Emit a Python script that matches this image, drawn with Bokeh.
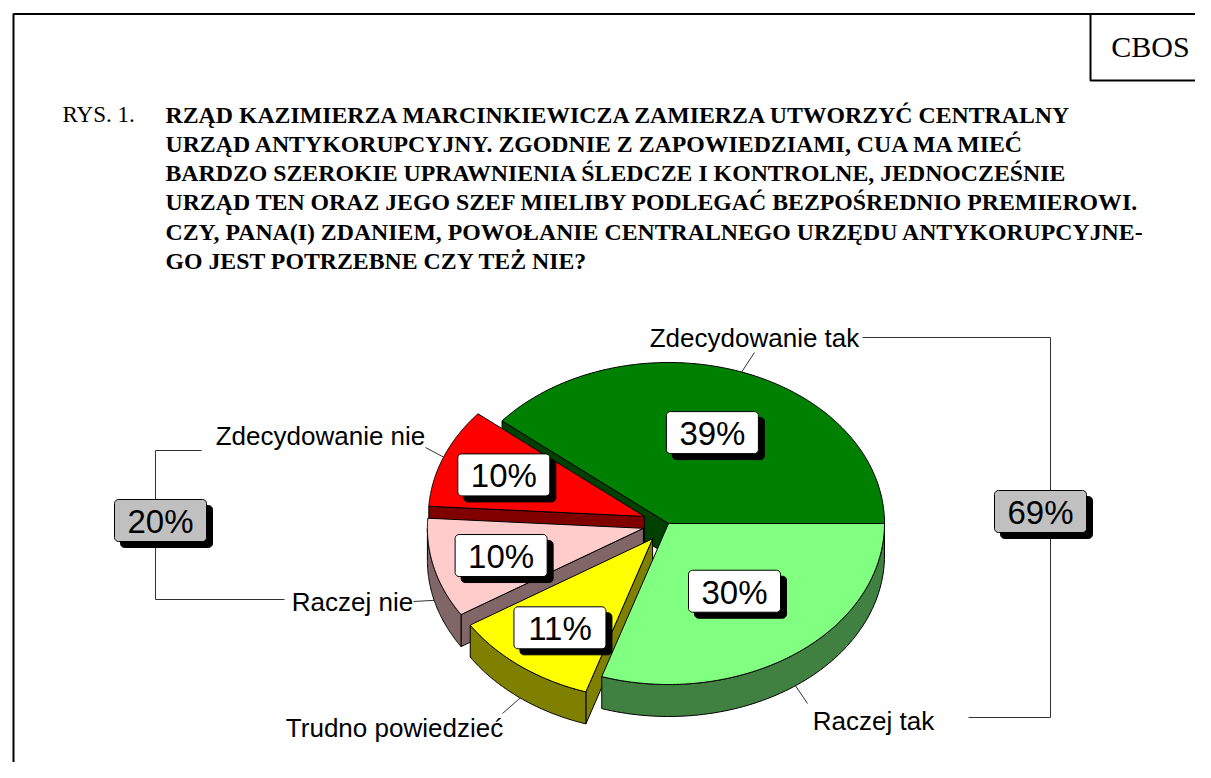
import numpy as np
from bokeh.plotting import figure
from bokeh.models import Range1d
from bokeh.embed import file_html
from bokeh.resources import INLINE
from bokeh.core.properties import value

# ---------------- data ----------------
categories = ["Zdecydowanie tak", "Zdecydowanie nie", "Raczej nie", "Trudno powiedzieć", "Raczej tak"]
percents = [39, 10, 10, 11, 30]
top_colors = ["#008000", "#FF0000", "#FFCCCC", "#FFFF00", "#80FF80"]
side_colors = ["#004000", "#800000", "#806666", "#808000", "#408040"]
exploded = [False, True, True, True, False]
group_yes = ["Zdecydowanie tak", "Raczej tak"]
group_no = ["Zdecydowanie nie", "Raczej nie"]

logo = "CBOS"
title_prefix = "RYS. 1."
title_lines = [
    "RZĄD KAZIMIERZA MARCINKIEWICZA ZAMIERZA UTWORZYĆ CENTRALNY",
    "URZĄD ANTYKORUPCYJNY. ZGODNIE Z ZAPOWIEDZIAMI, CUA MA MIEĆ",
    "BARDZO SZEROKIE UPRAWNIENIA ŚLEDCZE I KONTROLNE, JEDNOCZEŚNIE",
    "URZĄD TEN ORAZ JEGO SZEF MIELIBY PODLEGAĆ BEZPOŚREDNIO PREMIEROWI.",
    "CZY, PANA(I) ZDANIEM, POWOŁANIE CENTRALNEGO URZĘDU ANTYKORUPCYJNE-",
    "GO JEST POTRZEBNE CZY TEŻ NIE?",
]

# ---------------- layout ----------------
W, H = 1195, 762
CX, CY, RX, RY, DEPTH = 668, 523, 216, 161, 32
EXPLODE = 0.12
label_k = [0.6, 0.7, 0.68, 0.7, 0.52]          # radial position of % boxes
# category label centres and leader-line ends
cat_pos = {
    "Zdecydowanie tak": (754, 337, 754, 352),
    "Zdecydowanie nie": (320, 435, 425, 447),
    "Raczej nie": (352, 601, 413, 601),
    "Trudno powiedzieć": (394, 727, 502, 713),
    "Raczej tak": (873, 720, 807, 703),
}
BOX_W, BOX_H, BOX_R, SHADOW = 92, 42, 4, 6
SANS = value("Liberation Sans")
SERIF = value("Liberation Serif")

p = figure(width=W, height=H, x_range=Range1d(0, W), y_range=Range1d(H, 0),
           output_backend="svg", toolbar_location=None, min_border=0,
           x_axis_location=None, y_axis_location=None)
p.grid.visible = False
p.outline_line_color = None
p.background_fill_color = "white"
p.border_fill_color = "white"


def rim(ax, ay, deg):
    t = np.radians(np.atleast_1d(deg))
    return ax + RX * np.cos(t), ay - RY * np.sin(t)


def rrect(xc, yc, w, h, r):
    xs, ys = [], []
    corners = [(xc + w / 2 - r, yc - h / 2 + r, 90, 0), (xc + w / 2 - r, yc + h / 2 - r, 0, -90),
               (xc - w / 2 + r, yc + h / 2 - r, -90, -180), (xc - w / 2 + r, yc - h / 2 + r, 180, 90)]
    for (cx, cy, a0, a1) in corners:
        t = np.radians(np.linspace(a0, a1, 6))
        xs += list(cx + r * np.cos(t))
        ys += list(cy - r * np.sin(t))
    return xs, ys


# ---------------- pie ----------------
total = sum(percents)
starts, ends, mids, apexes = [], [], [], []
acc = 0.0
for v, ex in zip(percents, exploded):
    a0 = acc / total * 360
    a1 = (acc + v) / total * 360
    m = (a0 + a1) / 2
    acc += v
    if ex:
        ox = EXPLODE * RX * np.cos(np.radians(m))
        oy = -EXPLODE * RY * np.sin(np.radians(m))
    else:
        ox = oy = 0.0
    starts.append(a0); ends.append(a1); mids.append(m); apexes.append((CX + ox, CY + oy))

for i in range(len(percents)):
    a0, a1 = starts[i], ends[i]
    ax, ay = apexes[i]
    side_xs, side_ys = [], []
    # radial faces
    for ang, normal in ((a0, a0 - 90), (a1, a1 + 90)):
        if np.sin(np.radians(normal)) < -1e-6:
            rx_, ry_ = rim(ax, ay, ang)
            side_xs.append([ax, rx_[0], rx_[0], ax])
            side_ys.append([ay, ry_[0], ry_[0] + DEPTH, ay + DEPTH])
    # outer curved side (front half only)
    s0, s1 = max(a0, 180), min(a1, 360)
    if s1 > s0:
        t = np.linspace(s0, s1, 80)
        xx, yy = rim(ax, ay, t)
        side_xs.append(list(xx) + list(xx[::-1]))
        side_ys.append(list(yy) + list((yy + DEPTH)[::-1]))
    if side_xs:
        p.patches(side_xs, side_ys, fill_color=side_colors[i], line_color="black",
                  line_width=1, line_join="round")
    t = np.linspace(a0, a1, 120)
    xx, yy = rim(ax, ay, t)
    p.patch([ax] + list(xx), [ay] + list(yy), fill_color=top_colors[i], line_color="black",
            line_width=1, line_join="round")

# ---------------- leader lines & category labels ----------------
for i, name in enumerate(categories):
    ax, ay = apexes[i]
    mx, my = rim(ax, ay, mids[i])
    mx, my = mx[0], my[0]
    if np.sin(np.radians(mids[i])) < 0:
        my += DEPTH
    tx, ty, ex_, ey_ = cat_pos[name]
    p.line([mx, ex_], [my, ey_], line_color="#333333", line_width=1)
    p.text(x=[tx], y=[ty], text=[name], text_font=SANS, text_font_size=value("26px"),
           text_align="center", text_baseline="middle", text_color="black")

# brackets for the sums
p.line([862, 1050, 1050, 968], [337, 337, 717, 717], line_color="#333333", line_width=1)
p.line([201, 155, 155, 284], [450, 450, 599, 599], line_color="#333333", line_width=1)


def box(xc, yc, txt, fill):
    sx, sy = rrect(xc + SHADOW, yc + SHADOW, BOX_W, BOX_H, BOX_R)
    p.patch(sx, sy, fill_color="black", line_color="black", line_width=1)
    bx, by = rrect(xc, yc, BOX_W, BOX_H, BOX_R)
    p.patch(bx, by, fill_color=fill, line_color="black", line_width=1)
    p.text(x=[xc], y=[yc + 1], text=[txt], text_font=SANS, text_font_size=value("33px"),
           text_align="center", text_baseline="middle", text_color="black")


for i, v in enumerate(percents):
    ax, ay = apexes[i]
    m = np.radians(mids[i])
    xc = ax + label_k[i] * RX * np.cos(m)
    yc = ay - label_k[i] * RY * np.sin(m)
    box(xc, yc, f"{v}%", "white")

yes_sum = sum(percents[categories.index(c)] for c in group_yes)
no_sum = sum(percents[categories.index(c)] for c in group_no)
box(1040, 511, f"{yes_sum}%", "#C0C0C0")
box(160, 520, f"{no_sum}%", "#C0C0C0")

# ---------------- frame, logo, title ----------------
p.line([13, W], [13.5, 13.5], line_color="black", line_width=2)
p.line([13, 13], [13, H], line_color="black", line_width=2)
p.line([1090, 1090, W], [14, 80, 80], line_color="black", line_width=2)
p.text(x=[1150], y=[46], text=[logo], text_font=SERIF, text_font_size=value("30px"),
       text_align="center", text_baseline="middle", text_color="black")

p.text(x=[62], y=[114], text=[title_prefix], text_font=SERIF, text_font_size=value("23px"),
       text_align="left", text_baseline="middle", text_color="black")
p.text(x=[165] * len(title_lines), y=[114 + 29.3 * i for i in range(len(title_lines))],
       text=title_lines, text_font=SERIF, text_font_size=value("23.8px"), text_font_style="bold",
       text_align="left", text_baseline="middle", text_color="black")

open("out.html", "w").write(file_html(p, INLINE))
